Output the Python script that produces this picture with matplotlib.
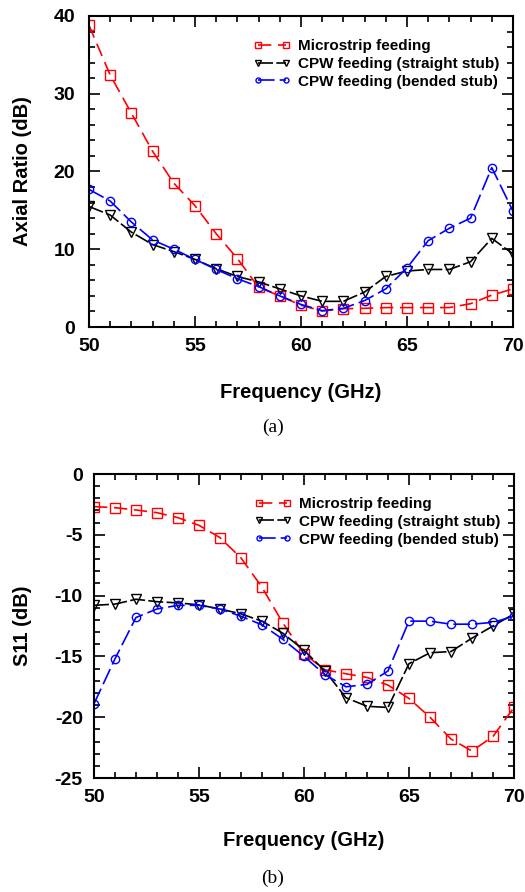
import matplotlib
matplotlib.use("Agg")
import matplotlib.pyplot as plt
from matplotlib.ticker import MultipleLocator

freq = list(range(50, 71))

# axial ratio (dB)
ar_micro = [38.8, 32.4, 27.5, 22.6, 18.5, 15.6, 12.0, 8.8, 5.1, 4.0, 2.8,
            2.06, 2.36, 2.4, 2.5, 2.5, 2.5, 2.5, 3.0, 4.1, 4.9]
ar_straight = [15.5, 14.4, 12.2, 10.6, 9.7, 8.7, 7.5, 6.5, 5.8, 4.9, 4.0,
               3.3, 3.3, 4.5, 6.5, 7.2, 7.4, 7.4, 8.4, 11.4, 9.4]
ar_bended = [17.7, 16.2, 13.5, 11.2, 10.0, 8.7, 7.4, 6.2, 5.2, 4.0, 2.9,
             2.1, 2.4, 3.4, 4.9, 7.6, 11.1, 12.7, 14.0, 20.5, 14.9]

# S11 (dB)
s_micro = [-2.68, -2.77, -2.96, -3.18, -3.59, -4.22, -5.23, -6.9, -9.31, -12.27, -14.79,
           -16.1, -16.43, -16.73, -17.36, -18.46, -20.0, -21.8, -22.78, -21.58, -19.2]
s_straight = [-10.8, -10.7, -10.3, -10.5, -10.6, -10.76, -11.1, -11.5, -12.1, -13.1, -14.5,
              -16.2, -18.4, -19.1, -19.2, -15.6, -14.7, -14.6, -13.5, -12.5, -11.5]
s_bended = [-18.9, -15.2, -11.8, -11.1, -10.8, -10.8, -11.1, -11.7, -12.4, -13.6, -15.0,
            -16.5, -17.5, -17.3, -16.2, -12.1, -12.1, -12.35, -12.35, -12.2, -11.7]

labels = ["Microstrip feeding", "CPW feeding (straight stub)", "CPW feeding (bended stub)"]

plt.rcParams['font.family'] = ['Liberation Sans', 'DejaVu Sans']
plt.rcParams['font.weight'] = 'bold'
plt.rcParams['axes.unicode_minus'] = False

fig = plt.figure(figsize=(5.25, 8.92), dpi=100)
ax1 = fig.add_axes([0.1695, 0.6334, 0.8076, 0.3487])
ax2 = fig.add_axes([0.179, 0.1278, 0.80, 0.3408])


def draw(ax, a, b, c, ypad):
    ax.plot(freq, a, color='red', ls=(0, (8, 4)), lw=1.2, marker='s', ms=6.5,
            mfc='none', mec='red', mew=1.0, label=labels[0])
    ax.plot(freq, b, color='black', ls=(0, (9, 2)), lw=1.2, marker='v', ms=6.5,
            mfc='none', mec='black', mew=1.0, label=labels[1])
    ax.plot(freq, c, color='blue', ls=(0, (10, 3)), lw=1.2, marker='o', ms=6,
            mfc='none', mec='blue', mew=1.0, label=labels[2])
    ax.set_xlim(50, 70)
    ax.xaxis.set_major_locator(MultipleLocator(5))
    ax.xaxis.set_minor_locator(MultipleLocator(1))
    ax.tick_params(which='both', direction='in', top=True, right=True,
                   labelsize=14, width=1.2)
    ax.tick_params(which='major', length=8)
    ax.tick_params(which='minor', length=4)
    ax.tick_params(axis='x', which='major', pad=8)
    ax.tick_params(axis='y', which='major', pad=ypad)
    for lab in ax.get_xticklabels() + ax.get_yticklabels():
        lab.set_fontweight('bold')
    for s in ax.spines.values():
        s.set_linewidth(1.5)
    ax.set_xlabel("Frequency (GHz)", fontsize=14.5, fontweight='bold', va='center')
    ax.legend(loc='upper right', bbox_to_anchor=(1.0, 0.97), frameon=False,
              numpoints=2, handlelength=2.4, handletextpad=0.5, labelspacing=0.25,
              prop={'size': 11, 'weight': 'bold'}, markerscale=0.6)


draw(ax1, ar_micro, ar_straight, ar_bended, 10)
ax1.set_ylim(0, 40)
ax1.yaxis.set_major_locator(MultipleLocator(10))
ax1.yaxis.set_minor_locator(MultipleLocator(2))
ax1.set_ylabel("Axial Ratio (dB)", fontsize=14.5, fontweight='bold', va='center')
ax1.yaxis.set_label_coords(-0.156, 0.5)
ax1.xaxis.set_label_coords(0.5, -0.209)

draw(ax2, s_micro, s_straight, s_bended, 8)
ax2.set_ylim(-25, 0)
ax2.yaxis.set_major_locator(MultipleLocator(5))
ax2.yaxis.set_minor_locator(MultipleLocator(1))
ax2.set_ylabel("S11 (dB)", fontsize=14.5, fontweight='bold', va='center')
ax2.yaxis.set_label_coords(-0.171, 0.5)
ax2.xaxis.set_label_coords(0.5, -0.204)

fig.text(0.52, 1 - 427 / 892, "(a)", ha='center', va='center', fontsize=14,
         family='Liberation Serif', fontweight='normal')
fig.text(0.52, 1 - 878 / 892, "(b)", ha='center', va='center', fontsize=14,
         family='Liberation Serif', fontweight='normal')

fig.savefig("out.png", dpi=100)
